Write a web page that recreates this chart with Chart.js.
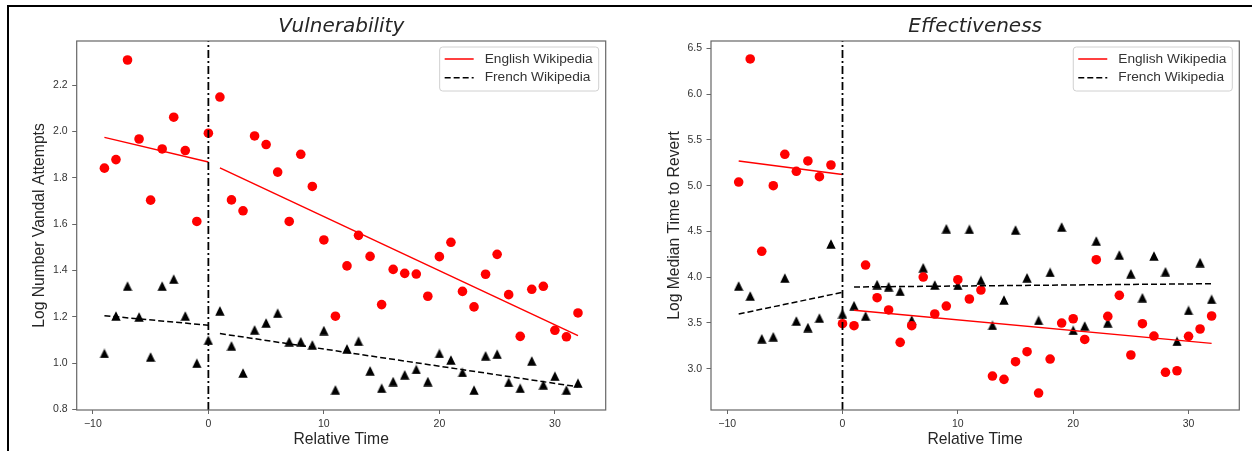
<!DOCTYPE html>
<html><head><meta charset="utf-8">
<script src="https://cdn.jsdelivr.net/npm/chart.js@4.4.1/dist/chart.umd.min.js"></script>
<style>
html,body{margin:0;padding:0;background:#fff;overflow:hidden;}
#wrap{position:relative;width:1252px;height:451px;overflow:hidden;}
canvas{position:absolute;top:0;}
#c1{left:0}
#c2{left:626px}
#frame{position:absolute;left:7px;top:5px;width:1300px;height:500px;border-top:2px solid #000;border-left:2px solid #000;}
</style></head>
<body><div id="wrap"><div id="frame"></div>
<canvas id="c1" width="626" height="451"></canvas>
<canvas id="c2" width="626" height="451"></canvas></div>
<script>
// ---------- data ----------
const relativeTime = [-9,-8,-7,-6,-5,-4,-3,-2,-1,0,1,2,3,4,5,6,7,8,9,10,11,12,13,14,15,16,17,18,19,20,21,22,23,24,25,26,27,28,29,30,31,32];
const xTicks = [-10, 0, 10, 20, 30];
const preX = [-9, 0];
const postX = [1, 32];
const seriesLabels = ['English Wikipedia', 'French Wikipedia'];

// Vulnerability
const vulnTitle = 'Vulnerability';
const vulnYLabel = 'Log Number Vandal Attempts';
const vulnYTicks = [0.8, 1.0, 1.2, 1.4, 1.6, 1.8, 2.0, 2.2];
const vulnEnglish = [1.842,1.879,2.309,1.968,1.704,1.925,2.062,1.918,1.612,1.993,
  2.149,1.705,1.658,1.981,1.944,1.825,1.612,1.902,1.763,1.532,1.203,1.420,1.552,1.461,1.253,1.405,
  1.388,1.385,1.289,1.460,1.522,1.310,1.243,1.384,1.470,1.296,1.116,1.319,1.332,1.142,1.114,1.217];
const vulnFrench = [1.042,1.204,1.333,1.200,1.027,1.333,1.363,1.204,1.000,1.099,
  1.226,1.075,0.958,1.144,1.174,1.216,1.093,1.093,1.079,1.141,0.885,1.062,1.095,0.967,0.892,0.921,
  0.950,0.973,0.921,1.042,1.014,0.960,0.884,1.032,1.039,0.917,0.892,1.010,0.907,0.944,0.884,0.914];
const vulnEnglishFitPre = [1.975, 1.869];
const vulnEnglishFitPost = [1.843, 1.119];
const vulnFrenchFitPre = [1.205, 1.164];
const vulnFrenchFitPost = [1.128, 0.898];

// Effectiveness
const effTitle = 'Effectiveness';
const effYLabel = 'Log Median Time to Revert';
const effYTicks = [3.0, 3.5, 4.0, 4.5, 5.0, 5.5, 6.0, 6.5];
const effEnglish = [5.040,6.385,4.283,5.000,5.343,5.157,5.270,5.098,5.226,3.492,
  3.470,4.133,3.776,3.642,3.288,3.470,4.002,3.598,3.685,3.973,3.762,3.860,2.920,2.884,3.077,3.186,2.734,
  3.106,3.499,3.546,3.320,4.191,3.572,3.802,3.150,3.492,3.357,2.961,2.978,3.354,3.434,3.576];
const effFrench = [3.904,3.795,3.328,3.350,3.991,3.522,3.450,3.554,4.363,3.601,
  3.689,3.576,3.919,3.897,3.846,3.532,4.104,3.915,4.530,3.911,4.524,3.966,3.474,3.751,4.516,3.994,3.528,
  4.053,4.549,3.420,3.467,4.396,3.503,4.243,4.038,3.776,4.232,4.060,3.299,3.637,4.160,3.759];
const effEnglishFitPre = [5.270, 5.121];
const effEnglishFitPost = [3.638, 3.277];
const effFrenchFitPre = [3.598, 3.835];
const effFrenchFitPost = [3.893, 3.929];

// ---------- helpers ----------
const SANS = '"Liberation Sans", Arial, sans-serif';
const RED = '#ff0000', BLACK = '#000000';
const AXIS_COLOR = '#666666';

function makeTriangle(size, color) {
  const c = document.createElement('canvas');
  c.width = size; c.height = size;
  const g = c.getContext('2d');
  g.fillStyle = color;
  g.beginPath();
  g.moveTo(size / 2, 0.3);
  g.lineTo(size - 0.3, size - 0.3);
  g.lineTo(0.3, size - 0.3);
  g.closePath();
  g.fill();
  return c;
}
const triangleImg = makeTriangle(10, BLACK);

const pts = (xs, ys) => xs.map((x, i) => ({x: x, y: ys[i]}));

const framePlugin = {
  id: 'frame',
  afterDatasetsDraw(chart) {
    const a = chart.chartArea, ctx = chart.ctx;
    ctx.save();
    ctx.strokeStyle = AXIS_COLOR;
    ctx.lineWidth = 1.2;
    ctx.strokeRect(a.left, a.top, a.right - a.left, a.bottom - a.top);
    ctx.restore();
  }
};

const legendPlugin = {
  id: 'mplLegend',
  afterDraw(chart) {
    const ctx = chart.ctx, a = chart.chartArea;
    const items = chart.data.datasets.filter(d => d.inLegend);
    ctx.save();
    ctx.font = '13.7px ' + SANS;
    const tw = Math.max(...items.map(d => ctx.measureText(d.label).width));
    const w = 45 + tw + 6, h = 44;
    const x = a.right - 7 - w, y = a.top + 6;
    const r = 3;
    ctx.beginPath();
    ctx.moveTo(x + r, y);
    ctx.lineTo(x + w - r, y); ctx.quadraticCurveTo(x + w, y, x + w, y + r);
    ctx.lineTo(x + w, y + h - r); ctx.quadraticCurveTo(x + w, y + h, x + w - r, y + h);
    ctx.lineTo(x + r, y + h); ctx.quadraticCurveTo(x, y + h, x, y + h - r);
    ctx.lineTo(x, y + r); ctx.quadraticCurveTo(x, y, x + r, y);
    ctx.closePath();
    ctx.fillStyle = 'rgba(255,255,255,0.85)';
    ctx.fill();
    ctx.strokeStyle = '#d0d0d0';
    ctx.lineWidth = 1;
    ctx.stroke();
    items.forEach((d, k) => {
      const ly = y + 12 + k * 18.7;
      ctx.beginPath();
      ctx.strokeStyle = d.borderColor;
      ctx.lineWidth = d.borderWidth;
      ctx.setLineDash(d.borderDash || []);
      ctx.moveTo(x + 5, ly); ctx.lineTo(x + 34, ly);
      ctx.stroke();
      ctx.setLineDash([]);
      ctx.fillStyle = '#333333';
      ctx.textBaseline = 'middle';
      ctx.textAlign = 'left';
      ctx.fillText(d.label, x + 45, ly);
    });
    ctx.restore();
  }
};

function buildChart(id, o) {
  const datasets = [
    {label: 'onset', data: [{x: 0, y: o.yMin}, {x: 0, y: o.yMax}], showLine: true,
     borderColor: BLACK, borderWidth: 1.8, borderDash: [8, 3, 2, 3], pointRadius: 0},
    {label: seriesLabels[0], inLegend: true, data: pts(preX, o.enPre), showLine: true,
     borderColor: RED, borderWidth: 1.5, pointRadius: 0},
    {label: seriesLabels[0] + ' post', data: pts(postX, o.enPost), showLine: true,
     borderColor: RED, borderWidth: 1.5, pointRadius: 0},
    {label: seriesLabels[1], inLegend: true, data: pts(preX, o.frPre), showLine: true,
     borderColor: BLACK, borderWidth: 1.5, borderDash: [6, 3], pointRadius: 0},
    {label: seriesLabels[1] + ' post', data: pts(postX, o.frPost), showLine: true,
     borderColor: BLACK, borderWidth: 1.5, borderDash: [6, 3], pointRadius: 0},
    {label: seriesLabels[0] + ' points', data: pts(relativeTime, o.en), showLine: false,
     pointStyle: 'circle', pointRadius: 4.8, pointBackgroundColor: RED, pointBorderWidth: 0,
     backgroundColor: RED, borderColor: RED},
    {label: seriesLabels[1] + ' points', data: pts(relativeTime, o.fr), showLine: false,
     pointStyle: triangleImg, pointRadius: 5, backgroundColor: BLACK, borderColor: BLACK}
  ];
  return new Chart(document.getElementById(id), {
    type: 'scatter',
    data: {datasets},
    plugins: [framePlugin, legendPlugin],
    options: {
      responsive: false,
      animation: false,
      events: [],
      layout: {padding: {left: 0, right: 626 - o.areaRight, top: 0, bottom: 0}},
      plugins: {
        legend: {display: false},
        tooltip: {enabled: false},
        title: {display: true, text: o.title, fullSize: false,
          font: {family: '"DejaVu Sans", sans-serif', size: 20, style: 'italic', weight: 'normal'},
          color: '#262626', padding: {top: 15, bottom: 2}}
      },
      scales: {
        x: {
          type: 'linear', min: -11.4, max: 34.4,
          afterFit: s => { s.height = 41; },
          afterBuildTicks: s => { s.ticks = xTicks.map(v => ({value: v})); },
          grid: {drawOnChartArea: false, drawTicks: true, tickLength: 4, color: AXIS_COLOR, lineWidth: 1},
          border: {display: false},
          ticks: {autoSkip: false, maxRotation: 0, padding: 4, color: '#333333',
            font: {family: SANS, size: 10.5},
            callback: v => String(v).replace('-', '\u2212')},
          title: {display: true, text: 'Relative Time', color: '#262626',
            font: {family: SANS, size: 15.7}, padding: {top: 0, bottom: 1.6}}
        },
        y: {
          type: 'linear', min: o.yMin, max: o.yMax,
          afterFit: s => { s.width = o.areaLeft; },
          afterBuildTicks: s => { s.ticks = o.yTicks.map(v => ({value: v})); },
          grid: {drawOnChartArea: false, drawTicks: true, tickLength: 4.5, color: AXIS_COLOR, lineWidth: 1},
          border: {display: false},
          ticks: {autoSkip: false, padding: 4.5, color: '#333333',
            font: {family: SANS, size: 10.5},
            callback: v => v.toFixed(1)},
          title: {display: true, text: o.yLabel, color: '#262626',
            font: {family: SANS, size: 15.7}, padding: {top: o.yTitleX - 9.42, bottom: 0}}
        }
      }
    }
  });
}

buildChart('c1', {
  title: vulnTitle, yLabel: vulnYLabel, yTicks: vulnYTicks, yMin: 0.798, yMax: 2.391,
  en: vulnEnglish, fr: vulnFrench,
  enPre: vulnEnglishFitPre, enPost: vulnEnglishFitPost, frPre: vulnFrenchFitPre, frPost: vulnFrenchFitPost,
  areaLeft: 76.7, areaRight: 605.7, yTitleX: 40
});
buildChart('c2', {
  title: effTitle, yLabel: effYLabel, yTicks: effYTicks, yMin: 2.549, yMax: 6.581,
  en: effEnglish, fr: effFrench,
  enPre: effEnglishFitPre, enPost: effEnglishFitPost, frPre: effFrenchFitPre, frPost: effFrenchFitPost,
  areaLeft: 85, areaRight: 613.3, yTitleX: 49
});
</script>
</body></html>
